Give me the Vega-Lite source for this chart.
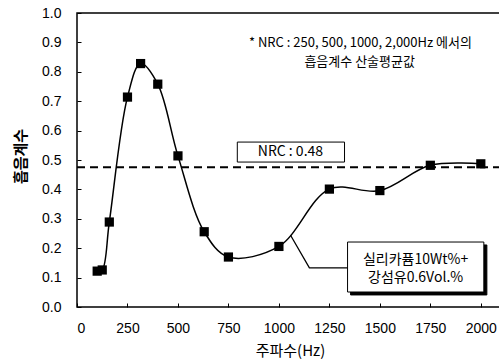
{
  "$schema": "https://vega.github.io/schema/vega-lite/v6.json",
  "autosize": "none",
  "padding": {"left": 77, "top": 13, "right": 0, "bottom": 52},
  "width": 424,
  "height": 294,
  "background": "white",
  "config": {
    "view": {"stroke": "black", "strokeWidth": 1.5},
    "font": "Liberation Sans"
  },
  "datasets": {
    "curve": [
      {"f": 100, "a": 0.122},
      {"f": 125, "a": 0.126},
      {"f": 160, "a": 0.289},
      {"f": 250, "a": 0.714},
      {"f": 315, "a": 0.828},
      {"f": 400, "a": 0.758},
      {"f": 500, "a": 0.514},
      {"f": 630, "a": 0.256},
      {"f": 750, "a": 0.17},
      {"f": 1000, "a": 0.206},
      {"f": 1250, "a": 0.401},
      {"f": 1500, "a": 0.396},
      {"f": 1750, "a": 0.482},
      {"f": 2000, "a": 0.487}
    ],
    "leader": [
      {"f": 1057, "a": 0.245, "o": 1},
      {"f": 1151, "a": 0.133, "o": 2},
      {"f": 1340, "a": 0.133, "o": 3}
    ],
    "boxes": [
      {"x1": 1355, "x2": 2030, "y1": 0.211, "y2": 0.041, "fill": "shadow"},
      {"x1": 1340, "x2": 2015, "y1": 0.221, "y2": 0.051, "fill": "box"},
      {"x1": 794, "x2": 1325, "y1": 0.561, "y2": 0.493, "fill": "box"}
    ],
    "labels": [
      {"f": 1404, "a": 0.897, "t": "* NRC : 250, 500, 1000, 2,000Hz 에서의", "s": 13},
      {"f": 1400, "a": 0.833, "t": "흡음계수 산술평균값", "s": 13},
      {"f": 1057, "a": 0.527, "t": "NRC : 0.48", "s": 14},
      {"f": 1677, "a": 0.161, "t": "실리카퓸10Wt%+", "s": 14},
      {"f": 1677, "a": 0.099, "t": "강섬유0.6Vol.%", "s": 14}
    ]
  },
  "layer": [
    {
      "data": {"name": "curve"},
      "mark": {"type": "line", "color": "black", "strokeWidth": 1.5, "interpolate": "catmull-rom"},
      "encoding": {
        "x": {
          "field": "f", "type": "quantitative",
          "scale": {"domain": [0, 2100], "nice": false},
          "axis": {
            "values": [0, 250, 500, 750, 1000, 1250, 1500, 1750, 2000],
            "tickCount": 20,
            "format": "d", "grid": false, "domain": false, "labelOverlap": false,
            "tickSize": -4, "tickColor": "black",
            "labelFontSize": 14, "labelColor": "black", "labelPadding": 18,
            "title": "주파수(Hz)", "titleFont": "Noto Sans CJK KR", "titleFontSize": 15, "titleFontWeight": "normal", "titleColor": "black",
            "titleX": 213, "titleY": 43, "titleBaseline": "middle", "titleAlign": "center"
          }
        },
        "y": {
          "field": "a", "type": "quantitative",
          "scale": {"domain": [0, 1], "nice": false},
          "axis": {
            "values": [0, 0.1, 0.2, 0.3, 0.4, 0.5, 0.6, 0.7, 0.8, 0.9, 1.0],
            "tickCount": 20,
            "format": ".1f", "grid": false, "domain": false, "labelOverlap": false,
            "tickSize": -4, "tickColor": "black",
            "labelFontSize": 14, "labelColor": "black", "labelPadding": 20,
            "title": "흡음계수", "titleFont": "Noto Sans CJK KR", "titleFontSize": 15, "titleFontWeight": "bold", "titleColor": "black",
            "titleX": -57, "titleY": 143, "titleAngle": 270, "titleBaseline": "middle", "titleAlign": "center"
          }
        }
      }
    },
    {
      "data": {"values": [{"nrc": 0.475}]},
      "mark": {"type": "rule", "strokeWidth": 2, "strokeDash": [8, 5], "color": "black"},
      "encoding": {"y": {"field": "nrc", "type": "quantitative"}}
    },
    {
      "data": {"name": "boxes"},
      "mark": {"type": "rect", "stroke": "black", "strokeWidth": 1},
      "encoding": {
        "x": {"field": "x1", "type": "quantitative"},
        "x2": {"field": "x2"},
        "y": {"field": "y1", "type": "quantitative"},
        "y2": {"field": "y2"},
        "fill": {"field": "fill", "type": "nominal", "scale": {"domain": ["shadow", "box"], "range": ["black", "white"]}, "legend": null}
      }
    },
    {
      "data": {"name": "leader"},
      "mark": {"type": "line", "color": "black", "strokeWidth": 1.3},
      "encoding": {
        "x": {"field": "f", "type": "quantitative"},
        "y": {"field": "a", "type": "quantitative"},
        "order": {"field": "o"}
      }
    },
    {
      "data": {"name": "curve"},
      "mark": {"type": "point", "shape": "square", "filled": true, "color": "black", "size": 85, "opacity": 1},
      "encoding": {
        "x": {"field": "f", "type": "quantitative"},
        "y": {"field": "a", "type": "quantitative"}
      }
    },
    {
      "data": {"name": "labels"},
      "mark": {"type": "text", "font": "Noto Sans CJK KR", "color": "black", "align": "center", "baseline": "middle"},
      "encoding": {
        "x": {"field": "f", "type": "quantitative"},
        "y": {"field": "a", "type": "quantitative"},
        "text": {"field": "t"},
        "size": {"field": "s", "type": "quantitative", "scale": null}
      }
    }
  ]
}
